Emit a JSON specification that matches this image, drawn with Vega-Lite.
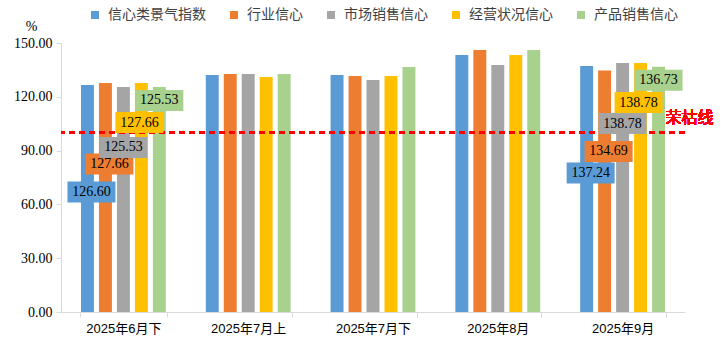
{
  "$schema": "https://vega.github.io/schema/vega-lite/v6.json",
  "width": 624,
  "height": 269,
  "autosize": {"type": "none"},
  "padding": {"left": 61, "top": 43, "right": 41, "bottom": 35},
  "background": "white",
  "config": {"view": {"stroke": null}},
  "data": {
    "values": [
      {"cat": "2025年6月下", "series": "信心类景气指数", "value": 126.60},
      {"cat": "2025年6月下", "series": "行业信心", "value": 127.66},
      {"cat": "2025年6月下", "series": "市场销售信心", "value": 125.53},
      {"cat": "2025年6月下", "series": "经营状况信心", "value": 127.66},
      {"cat": "2025年6月下", "series": "产品销售信心", "value": 125.53},
      {"cat": "2025年7月上", "series": "信心类景气指数", "value": 132.2},
      {"cat": "2025年7月上", "series": "行业信心", "value": 132.7},
      {"cat": "2025年7月上", "series": "市场销售信心", "value": 132.7},
      {"cat": "2025年7月上", "series": "经营状况信心", "value": 131.1},
      {"cat": "2025年7月上", "series": "产品销售信心", "value": 132.7},
      {"cat": "2025年7月下", "series": "信心类景气指数", "value": 132.2},
      {"cat": "2025年7月下", "series": "行业信心", "value": 131.6},
      {"cat": "2025年7月下", "series": "市场销售信心", "value": 129.4},
      {"cat": "2025年7月下", "series": "经营状况信心", "value": 131.6},
      {"cat": "2025年7月下", "series": "产品销售信心", "value": 136.6},
      {"cat": "2025年8月", "series": "信心类景气指数", "value": 143.3},
      {"cat": "2025年8月", "series": "行业信心", "value": 146.1},
      {"cat": "2025年8月", "series": "市场销售信心", "value": 137.8},
      {"cat": "2025年8月", "series": "经营状况信心", "value": 143.3},
      {"cat": "2025年8月", "series": "产品销售信心", "value": 146.1},
      {"cat": "2025年9月", "series": "信心类景气指数", "value": 137.24},
      {"cat": "2025年9月", "series": "行业信心", "value": 134.69},
      {"cat": "2025年9月", "series": "市场销售信心", "value": 138.78},
      {"cat": "2025年9月", "series": "经营状况信心", "value": 138.78},
      {"cat": "2025年9月", "series": "产品销售信心", "value": 136.73}
    ]
  },
  "encoding": {
    "x": {
      "field": "cat", "type": "nominal", "sort": null,
      "scale": {"paddingInner": 0.3, "paddingOuter": 0.15},
      "axis": {
        "title": null, "labelAngle": 0, "tickBand": "extent", "tickSize": 5,
        "tickColor": "#d9d9d9", "domainColor": "#d9d9d9", "labelPadding": 5,
        "labelFont": "Liberation Sans, Noto Sans CJK SC", "labelFontSize": 13, "labelColor": "#000000"
      }
    },
    "xOffset": {
      "field": "series", "type": "nominal",
      "sort": ["信心类景气指数", "行业信心", "市场销售信心", "经营状况信心", "产品销售信心"],
      "scale": {"paddingInner": 0.28, "paddingOuter": 0.07}
    },
    "y": {
      "field": "value", "type": "quantitative",
      "scale": {"domain": [0, 150], "nice": false},
      "axis": {
        "values": [0, 30, 60, 90, 120, 150], "format": ".2f", "grid": false,
        "tickSize": 5, "tickColor": "#d9d9d9", "domainColor": "#d9d9d9", "labelPadding": 4,
        "labelFont": "Liberation Serif", "labelFontSize": 14, "labelColor": "#000000",
        "title": "%", "titleAngle": 0, "titleX": -30, "titleY": -17, "titleAlign": "center",
        "titleBaseline": "middle", "titleFont": "Liberation Serif", "titleFontSize": 14,
        "titleFontWeight": "normal", "titleColor": "#000000"
      }
    },
    "color": {
      "field": "series", "type": "nominal",
      "sort": ["信心类景气指数", "行业信心", "市场销售信心", "经营状况信心", "产品销售信心"],
      "scale": {
        "domain": ["信心类景气指数", "行业信心", "市场销售信心", "经营状况信心", "产品销售信心"],
        "range": ["#5B9BD5", "#ED7D31", "#A5A5A5", "#FFC000", "#A9D18E"]
      },
      "legend": {
        "title": null, "orient": "none", "legendX": 27, "legendY": -35, "direction": "horizontal",
        "symbolType": "square", "symbolSize": 64, "symbolStrokeWidth": 0, "labelOffset": 6,
        "columnPadding": 21, "labelFont": "Noto Sans CJK SC", "labelFontSize": 14, "labelColor": "#404040"
      }
    }
  },
  "layer": [
    {"mark": {"type": "bar"}},
    {
      "mark": {"type": "rule", "color": "#FF0000", "strokeWidth": 2, "strokeDash": [6, 4]},
      "encoding": {"y": {"datum": 100}, "x": null, "xOffset": null, "color": null}
    },
    {
      "mark": {"type": "text", "text": "荣枯线", "color": "#FF0000", "font": "Noto Sans CJK SC", "fontSize": 16, "fontWeight": "normal", "dx": 67, "dy": -15, "align": "center", "baseline": "middle"},
      "encoding": {"x": {"datum": "2025年9月"}, "y": {"datum": 100}, "xOffset": null, "color": null}
    },
    {
      "transform": [{"filter": {"field": "cat", "oneOf": ["2025年6月下", "2025年9月"]}}, {"filter": {"field": "series", "equal": "信心类景气指数"}}],
      "layer": [
        {"mark": {"type": "point", "filled": true, "opacity": 1, "size": 400, "strokeWidth": 0, "shape": "M-2,9.65H2.8V11.75H-2Z"}},
        {"mark": {"type": "text", "font": "Liberation Serif", "fontSize": 14, "color": "#000000", "dx": 4, "dy": 107, "align": "center", "baseline": "middle"},
         "encoding": {"text": {"field": "value", "type": "quantitative", "format": ".2f"}, "color": null}}
      ]
    },
    {
      "transform": [{"filter": {"field": "cat", "oneOf": ["2025年6月下", "2025年9月"]}}, {"filter": {"field": "series", "equal": "行业信心"}}],
      "layer": [
        {"mark": {"type": "point", "filled": true, "opacity": 1, "size": 400, "strokeWidth": 0, "shape": "M-2,7.05H2.8V9.15H-2Z"}},
        {"mark": {"type": "text", "font": "Liberation Serif", "fontSize": 14, "color": "#000000", "dx": 4, "dy": 81, "align": "center", "baseline": "middle"},
         "encoding": {"text": {"field": "value", "type": "quantitative", "format": ".2f"}, "color": null}}
      ]
    },
    {
      "transform": [{"filter": {"field": "cat", "oneOf": ["2025年6月下", "2025年9月"]}}, {"filter": {"field": "series", "equal": "市场销售信心"}}],
      "layer": [
        {"mark": {"type": "point", "filled": true, "opacity": 1, "size": 400, "strokeWidth": 0, "shape": "M-2.4,5H2.4V7.1H-2.4Z"}},
        {"mark": {"type": "text", "font": "Liberation Serif", "fontSize": 14, "color": "#000000", "dx": 0, "dy": 60.5, "align": "center", "baseline": "middle"},
         "encoding": {"text": {"field": "value", "type": "quantitative", "format": ".2f"}, "color": null}}
      ]
    },
    {
      "transform": [{"filter": {"field": "cat", "oneOf": ["2025年6月下", "2025年9月"]}}, {"filter": {"field": "series", "equal": "经营状况信心"}}],
      "layer": [
        {"mark": {"type": "point", "filled": true, "opacity": 1, "size": 400, "strokeWidth": 0, "shape": "M-2.6,2.9H2.2V5H-2.6Z"}},
        {"mark": {"type": "text", "font": "Liberation Serif", "fontSize": 14, "color": "#000000", "dx": -2, "dy": 39.5, "align": "center", "baseline": "middle"},
         "encoding": {"text": {"field": "value", "type": "quantitative", "format": ".2f"}, "color": null}}
      ]
    },
    {
      "transform": [{"filter": {"field": "cat", "oneOf": ["2025年6月下", "2025年9月"]}}, {"filter": {"field": "series", "equal": "产品销售信心"}}],
      "layer": [
        {"mark": {"type": "point", "filled": true, "opacity": 1, "size": 400, "strokeWidth": 0, "shape": "M-2.4,0.3H2.4V2.4H-2.4Z"}},
        {"mark": {"type": "text", "font": "Liberation Serif", "fontSize": 14, "color": "#000000", "dx": 0, "dy": 13.5, "align": "center", "baseline": "middle"},
         "encoding": {"text": {"field": "value", "type": "quantitative", "format": ".2f"}, "color": null}}
      ]
    }
  ]
}
